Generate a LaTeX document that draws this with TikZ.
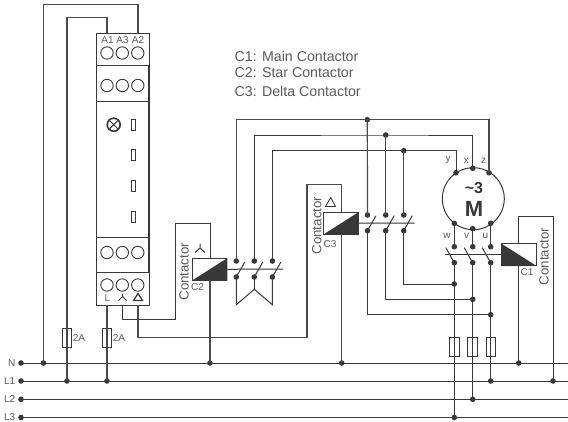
\documentclass[tikz,border=0pt]{standalone}
\usepackage{fontspec}
\setmainfont{Liberation Sans}
\definecolor{wire}{HTML}{383838}
\definecolor{feed}{HTML}{4A4A4A}
\definecolor{lbl}{HTML}{5A5A5A}
\tikzset{
  wireline/.style={draw=wire,line width=1pt},
  feedline/.style={draw=feed,line width=1.2pt},
  dotpt/.style={circle,fill=wire,inner sep=0pt,minimum size=5.6pt},
  lab/.style={text=lbl,font=\fontsize{10}{12}\selectfont,inner sep=0pt},
  biglab/.style={text=lbl,font=\fontsize{13.3}{15}\selectfont,inner sep=0pt},
  term/.style={circle,draw=wire,line width=.9pt,minimum size=12.4pt,inner sep=0pt},
  fusebox/.style={rectangle,draw=wire,line width=.9pt,minimum width=9.5pt,minimum height=19pt,inner sep=0pt},
  coil/.style={rectangle,draw=wire,line width=1pt,fill=white,minimum width=34.5pt,minimum height=21.6pt,inner sep=0pt},
  ledbar/.style={rectangle,draw=wire,line width=.9pt,minimum width=4.2pt,minimum height=10.5pt,inner sep=0pt},
  legend/.style={text=lbl,font=\fontsize{14.2}{16}\selectfont,inner sep=0pt,anchor=west}
}
\begin{document}
\begin{tikzpicture}[x=1pt,y=-1pt]
\path[use as bounding box] (0,0) rectangle (568,421);
% relay
\draw[wire,line width=1pt] (96,33) rectangle (149,305);
\draw[wire,line width=1.4pt] (149,65) -- (149,272);
\foreach \yy in {65.5,101,237,272.5}{\draw[wire,line width=1pt] (96,\yy) -- (149,\yy);}
\foreach \yy/\nm in {53/a,85.5/b,252.5/c,285/d}{
  \node[term] (\nm1) at (107,\yy) {};
  \node[term] (\nm2) at (122.3,\yy) {};
  \node[term] (\nm3) at (137.8,\yy) {};
}
\node[lab] (ta1) at (107.5,40.5) {A1};
\node[lab] (ta3) at (122.5,40.5) {A3};
\node[lab] (ta2) at (138,40.5) {A2};
\node[lab] (tl) at (107.5,298) {L};
% lamp
\node[circle,draw=wire,line width=1.6pt,minimum size=13pt,inner sep=0pt] (lamp) at (113.7,124.7) {};
\draw[wire,line width=1pt] (lamp.north west) -- (lamp.south east) (lamp.north east) -- (lamp.south west);
\node[ledbar] (bar1) at (133.7,124.7) {};
\node[ledbar] (bar2) at (133.7,155) {};
\node[ledbar] (bar3) at (133.7,186) {};
\node[ledbar] (bar4) at (133.7,216.7) {};
% relay symbols
\draw[wire,line width=1pt] (122.5,296.5) -- (122.5,293.5) (122.5,296.5) -- (118.5,300.5) (122.5,296.5) -- (126.5,300.5);
\draw[wire,line width=1.3pt] (138,293.5) -- (142.5,300.5) -- (133.5,300.5) -- cycle;
% bus lines
\node[dotpt] (N0) at (21,363) {};
\node[dotpt] (L10) at (21,381) {};
\node[dotpt] (L20) at (21,399.3) {};
\node[dotpt] (L30) at (21,417.5) {};
\coordinate (Ne) at (568,363);
\coordinate (L1e) at (568,381);
\coordinate (L2e) at (568,399.3);
\coordinate (L3e) at (568,417.5);
\draw[wireline] (N0.center) -- (Ne) (L10.center) -- (L1e) (L20.center) -- (L2e) (L30.center) -- (L3e);
\node[lab,anchor=east] (tN) at (15.5,363) {N};
\node[lab,anchor=east] (tL1) at (15.5,381) {L1};
\node[lab,anchor=east] (tL2) at (15.5,399.3) {L2};
\node[lab,anchor=east] (tL3) at (15.5,416.6) {L3};
% relay feeds
\node[dotpt] (dN1) at (43.5,363) {};
\node[dotpt] (dL1) at (67,381) {};
\node[dotpt] (dL2) at (107,381) {};
\coordinate (A2p) at (138,33);
\coordinate (A1p) at (107,33);
\coordinate (Lp) at (107,305);
\coordinate (Yp) at (122,305);
\coordinate (Dp) at (138,305);
\draw[feedline] (dN1.center) -- (43.5,4.5) -| (A2p);
\draw[feedline] (dL1.center) -- (67,17.5) -| (A1p);
\draw[feedline] (Lp) -- (dL2.center);
\node[fusebox] (F1) at (67,337.5) {};
\node[fusebox] (F2) at (107,337.5) {};
\node[lab] (t2a1) at (79,338) {2A};
\node[lab] (t2a2) at (119,338) {2A};
% coils
\node[coil] (C2) at (209.7,269.3) {};
\fill[wire] (C2.south west) -- (C2.north east) -- (C2.south east) -- cycle;
\node[coil] (C3) at (341.2,223.2) {};
\fill[wire] (C3.south west) -- (C3.north east) -- (C3.south east) -- cycle;
\node[coil] (C1) at (518.8,254.7) {};
\fill[wire] (C1.north west) -- (C1.south east) -- (C1.south west) -- cycle;
% coil control wires
\node[dotpt] (dNC2) at (210,363) {};
\node[dotpt] (dNC3) at (341.7,363) {};
\node[dotpt] (dNC1) at (518.7,363) {};
\node[dotpt] (dLC1) at (553,381) {};
\draw[wireline] (Yp) -- (122,319.7) -- (175,319.7) -- (175,223) -- (210.3,223) -- (210.3,258.5);
\draw[feedline] (Dp) -- (138,337.7) -- (307,337.7) -- (307,184.7) -- (341.7,184.7) -- (341.7,212.4);
\draw[feedline] (210,280) -- (dNC2.center);
\draw[feedline] (341.7,234) -- (dNC3.center);
\draw[wireline] (518.7,243.9) -- (518.7,216) -- (553,216) -- (dLC1.center);
\draw[wireline] (518.7,265.5) -- (dNC1.center);
% C2 switches
\foreach \xx/\nm in {236.3/p,254.3/q,272.4/r}{
  \node[dotpt] (\nm t) at (\xx,261) {};
  \node[dotpt] (\nm b) at (\xx,277) {};
  \draw[wireline] (\nm b.center) -- ++(8.5,-15);
}
\draw[wireline] (C2.east) -- (283,269);
\coordinate (sl) at (236.3,304.7);
\coordinate (sc) at (254.3,289.3);
\coordinate (sr) at (272.4,304.7);
\draw[wireline] (pb.center) -- (sl) -- (sc) -- (sr) -- (rb.center);
\draw[wireline] (qb.center) -- (sc);
% C3 switches
\foreach \xx/\nm in {367.5/e,385.7/f,403.7/g}{
  \node[dotpt] (\nm t) at (\xx,215) {};
  \node[dotpt] (\nm b) at (\xx,230.7) {};
  \draw[wireline] (\nm b.center) -- ++(8.5,-15);
}
\draw[wireline] (C3.east) -- (414.7,223);
% motor
\node[circle,draw=wire,line width=1pt,minimum size=62pt,inner sep=0pt] (M) at (473.3,198.7) {};
\node[text=wire,font=\bfseries\fontsize{16}{18}\selectfont,inner sep=0pt] (tm3) at (474,187.5) {\textasciitilde 3};
\node[text=wire,font=\bfseries\fontsize{22}{24}\selectfont,inner sep=0pt] (tmM) at (474,208.5) {M};
\node[dotpt] (my) at (456,172.7) {};
\node[dotpt] (mx) at (472.7,168.3) {};
\node[dotpt] (mz) at (489,172.7) {};
\node[dotpt] (mw) at (454.3,223.3) {};
\node[dotpt] (mv) at (472.7,228.7) {};
\node[dotpt] (mu) at (490.7,223.3) {};
\node[lab] (ty) at (448,160) {y};
\node[lab] (tx) at (466.3,160.5) {x};
\node[lab] (tz) at (483.5,160.5) {z};
\node[lab] (tw) at (447,235.5) {w};
\node[lab] (tv) at (466.5,235.5) {v};
\node[lab] (tu) at (485.5,235.5) {u};
% upper wires
\node[dotpt] (j1) at (367.3,119.7) {};
\node[dotpt] (j2) at (385.7,135) {};
\node[dotpt] (j3) at (403.7,150.7) {};
\draw[feedline] (pt.center) |- (j1.center) -| (mz.center);
\draw[wireline] (qt.center) |- (j2.center) -| (mx.center);
\draw[wireline] (rt.center) |- (j3.center) -| (my.center);
\draw[feedline] (j1.center) -- (et.center);
\draw[feedline] (j2.center) -- (ft.center);
\draw[feedline] (j3.center) -- (gt.center);
% C1 switches
\foreach \xx/\nm/\mm in {454.3/h/mw,472.7/i/mv,490.7/k/mu}{
  \node[dotpt] (\nm t) at (\xx,246.7) {};
  \node[dotpt] (\nm b) at (\xx,262.7) {};
  \draw[wireline] (\mm.center) -- (\nm t.center);
  \draw[wireline] (\nm b.center) -- ++(-8.5,-15);
}
\draw[wireline] (C1.west) -- (445.3,254.7);
% lower wires
\node[dotpt] (k1) at (454.3,284) {};
\node[dotpt] (k2) at (472.7,299.3) {};
\node[dotpt] (k3) at (490.7,314.7) {};
\draw[wireline] (gb.center) |- (k1.center);
\draw[wireline] (fb.center) |- (k2.center);
\draw[wireline] (eb.center) |- (k3.center);
\node[dotpt] (bL3) at (454.3,417.5) {};
\node[dotpt] (bL2) at (472.7,399.3) {};
\node[dotpt] (bL1) at (490.7,381) {};
\draw[wireline] (hb.center) -- (bL3.center);
\draw[wireline] (ib.center) -- (bL2.center);
\draw[wireline] (kb.center) -- (bL1.center);
\node[fusebox] (F3) at (454.5,346.5) {};
\node[fusebox] (F4) at (472.5,346.5) {};
\node[fusebox] (F5) at (490.7,346.5) {};
% labels
\node[biglab,rotate=90] (cc1) at (544,256.5) {Contactor};
\node[lab] (lc1) at (527,272.5) {C1};
\node[biglab,rotate=90] (cc2) at (184,271.7) {Contactor};
\node[lab] (lc2) at (197.5,287) {C2};
\draw[wire,line width=1pt] (200,248) -- (200,243.5) (200,248) -- (195,252.5) (200,248) -- (205,252.5);
\node[biglab,rotate=90] (cc3) at (316.7,225.6) {Contactor};
\node[lab] (lc3) at (330,244) {C3};
\draw[wire,line width=.9pt] (330.7,197.5) -- (335.5,206.5) -- (325.5,206.5) -- cycle;
\node[legend] (leg1) at (234.5,56.5) {C1: Main Contactor};
\node[legend] (leg2) at (234.5,73) {C2: Star Contactor};
\node[legend] (leg3) at (234.5,91) {C3: Delta Contactor};
\end{tikzpicture}
\end{document}
